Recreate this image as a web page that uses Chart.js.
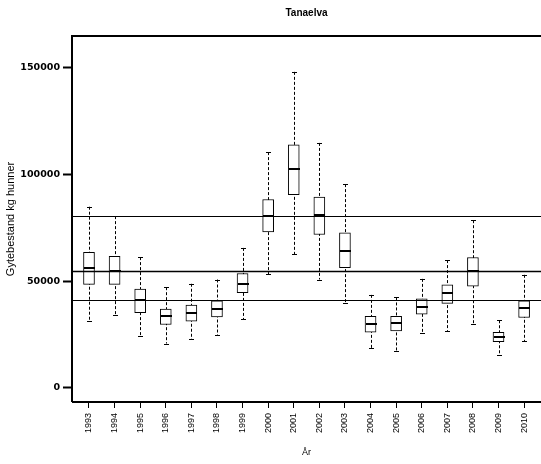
<!DOCTYPE html>
<html><head><meta charset="utf-8">
<script src="https://cdn.jsdelivr.net/npm/chart.js@4"></script>
<style>html,body{margin:0;padding:0;background:#fff}canvas{display:block}</style>
</head><body>
<canvas id="c" width="541" height="464"></canvas>
<script>
const years = ['1993','1994','1995','1996','1997','1998','1999','2000','2001','2002','2003','2004','2005','2006','2007','2008','2009','2010'];
const whiskerLow  = [31300, 34100, 24400, 20800, 22800, 24600, 32100, 53300, 62700, 50800, 39600, 18500, 17200, 25500, 26700, 29900, 15600, 22000];
const quartile1   = [48500, 48500, 35300, 29700, 31300, 33300, 44600, 73100, 90500, 71900, 56400, 26100, 26700, 34600, 39600, 47700, 21700, 33000];
const medians     = [56200, 55000, 41000, 33500, 35300, 37000, 48900, 80500, 102500, 80800, 64200, 29900, 30500, 38000, 44500, 54600, 23900, 37400];
const quartile3   = [63500, 61600, 46300, 36900, 38800, 40800, 53600, 88300, 113900, 89400, 72700, 33600, 33600, 41700, 48300, 61100, 26100, 40800];
const whiskerHigh = [84900, 80500, 61300, 47200, 48800, 50800, 65600, 110500, 148100, 114800, 95500, 43600, 42400, 51100, 59900, 78600, 31700, 53000];
const refLines = [80500, 54800, 41000];
const yTickValues = [0, 50000, 100000, 150000];

Chart.defaults.font.family = "'Liberation Sans', Arial, sans-serif";
Chart.defaults.color = '#000';

const boxData = years.map((y, i) => ({x: i, y: [quartile1[i], quartile3[i]]}));
const BOX_W = 11, CAP_W = 5;

const boxParts = {
  id: 'boxParts',
  beforeDatasetsDraw(chart) {
    const ctx = chart.ctx, xs = chart.scales.x, ys = chart.scales.y;
    ctx.save();
    ctx.strokeStyle = '#000';
    ctx.lineWidth = 1;
    years.forEach((yr, i) => {
      const cx = Math.round(xs.getPixelForValue(i)) + 0.5;
      const yl = ys.getPixelForValue(whiskerLow[i]);
      const yh = ys.getPixelForValue(whiskerHigh[i]);
      ctx.setLineDash([3, 2]);
      ctx.beginPath(); ctx.moveTo(cx, yh); ctx.lineTo(cx, yl); ctx.stroke();
      ctx.setLineDash([]);
      ctx.beginPath();
      ctx.moveTo(cx - CAP_W / 2, Math.round(yh) + 0.5); ctx.lineTo(cx + CAP_W / 2, Math.round(yh) + 0.5);
      ctx.moveTo(cx - CAP_W / 2, Math.round(yl) + 0.5); ctx.lineTo(cx + CAP_W / 2, Math.round(yl) + 0.5);
      ctx.stroke();
    });
    ctx.restore();
  },
  afterDatasetsDraw(chart) {
    const ctx = chart.ctx, xs = chart.scales.x, ys = chart.scales.y, ca = chart.chartArea;
    ctx.save();
    ctx.strokeStyle = '#000';
    ctx.lineWidth = 2;
    years.forEach((yr, i) => {
      const cx = Math.round(xs.getPixelForValue(i)) + 0.5;
      const ym = Math.round(ys.getPixelForValue(medians[i]));
      ctx.beginPath(); ctx.moveTo(cx - BOX_W / 2, ym); ctx.lineTo(cx + BOX_W / 2, ym); ctx.stroke();
    });
    refLines.forEach((v, k) => {
      const y = Math.round(ys.getPixelForValue(v)) + 0.5;
      ctx.lineWidth = k === 1 ? 1.5 : 1;
      ctx.beginPath(); ctx.moveTo(ca.left, y); ctx.lineTo(ca.right, y); ctx.stroke();
    });
    ctx.lineWidth = 2;
    ctx.beginPath();
    ctx.moveTo(ca.left, ca.bottom); ctx.lineTo(ca.left, ca.top); ctx.lineTo(ca.right, ca.top);
    ctx.moveTo(ca.left, ca.bottom); ctx.lineTo(ca.right, ca.bottom);
    ctx.stroke();
    ctx.restore();
  }
};

new Chart(document.getElementById('c'), {
  type: 'bar',
  data: {
    datasets: [{
      data: boxData,
      backgroundColor: '#fff',
      borderColor: '#000',
      borderWidth: 1,
      borderSkipped: false,
      barThickness: BOX_W
    }]
  },
  options: {
    responsive: false,
    animation: false,
    devicePixelRatio: 1,
    layout: {padding: 0},
    plugins: {
      legend: {display: false},
      tooltip: {enabled: false},
      title: {
        display: true, text: 'Tanaelva', fullSize: false,
        font: {size: 10, weight: 'bold'},
        padding: {top: 7, bottom: 17}
      }
    },
    scales: {
      x: {
        type: 'linear', min: -0.664, max: 17.66, offset: false,
        afterBuildTicks(s) { s.ticks = years.map((y, i) => ({value: i})); },
        afterFit(s) { s.height = 62; s.paddingLeft = 0; s.paddingRight = 0; },
        ticks: {
          autoSkip: false, minRotation: 90, maxRotation: 90, padding: 5,
          font: {size: 9},
          callback: (v) => years[v]
        },
        grid: {drawOnChartArea: false, offset: false, tickLength: 6, color: '#000', tickWidth: 1},
        border: {display: false},
        title: {display: true, text: 'År', font: {size: 9}, padding: {top: 0, bottom: 6.5}}
      },
      y: {
        min: -6600, max: 164900,
        afterBuildTicks(s) { s.ticks = yTickValues.map(v => ({value: v})); },
        afterFit(s) { s.width = 72; s.paddingTop = 0; s.paddingBottom = 0; },
        ticks: {
          padding: 3,
          font: {size: 9.5, weight: 'bold', family: "'DejaVu Sans', sans-serif"},
          callback: (v) => String(v)
        },
        grid: {drawOnChartArea: false, tickLength: 9, color: '#000', tickWidth: 2},
        border: {display: false},
        title: {display: true, text: 'Gytebestand kg hunner', font: {size: 11}, padding: {top: 4, bottom: 0}}
      }
    }
  },
  plugins: [boxParts]
});
</script>
</body></html>
